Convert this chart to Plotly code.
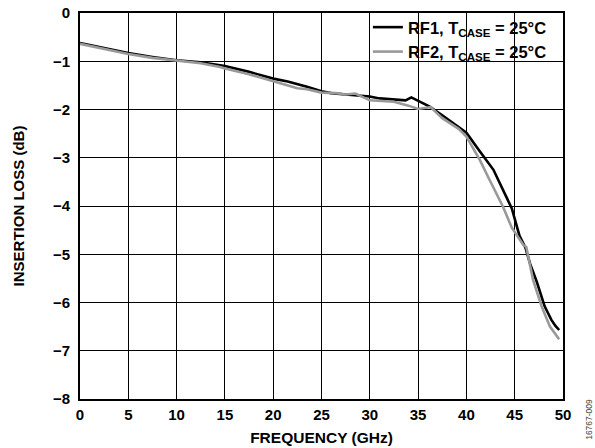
import plotly.graph_objects as go

rf1_freq = [0, 2.5, 5, 7.5, 10, 12.5, 15, 17.5, 20, 21.5, 22.5, 23.5, 25, 26, 27.5, 29, 30,
            31, 32, 33, 33.7, 34.3, 35, 36.2, 37.5, 39.2, 40, 41.4, 42.8, 43.3, 44.0, 44.7,
            45.5, 46.1, 46.6, 47.3, 48.1, 48.8, 49.2, 49.6]
rf1_loss = [-0.62, -0.73, -0.83, -0.91, -0.98, -1.02, -1.10, -1.22, -1.36, -1.42, -1.47, -1.53,
            -1.62, -1.66, -1.69, -1.71, -1.73, -1.77, -1.78, -1.80, -1.81, -1.75, -1.82, -1.94,
            -2.12, -2.37, -2.48, -2.87, -3.25, -3.46, -3.75, -4.05, -4.62, -4.86, -5.20, -5.58,
            -6.08, -6.36, -6.48, -6.57]

rf2_freq = [0, 2.5, 5, 7.5, 10, 12.5, 14.5, 15, 17.5, 20, 22.5, 23.5, 25, 26.5, 27.5, 28.5,
            30, 32.5, 34, 35, 35.8, 36.3, 37.5, 39.2, 40, 41.4, 42.3, 43.0, 43.8, 44.7, 45.5,
            45.9, 46.2, 46.9, 47.8, 48.65, 49.6]
rf2_loss = [-0.64, -0.75, -0.85, -0.93, -0.99, -1.04, -1.12, -1.15, -1.27, -1.42, -1.56, -1.58,
            -1.65, -1.66, -1.69, -1.67, -1.81, -1.84, -1.92, -1.99, -1.97, -1.95, -2.18, -2.40,
            -2.56, -3.05, -3.42, -3.70, -4.02, -4.45, -4.70, -4.81, -4.85, -5.53, -6.09, -6.50,
            -6.76]

x_ticks = [0, 5, 10, 15, 20, 25, 30, 35, 40, 45, 50]
y_ticks = [0, -1, -2, -3, -4, -5, -6, -7, -8]

FONT = "Liberation Sans, Arial, sans-serif"

fig = go.Figure()
fig.add_trace(go.Scatter(x=rf1_freq, y=rf1_loss, mode="lines",
                         line=dict(color="#000000", width=2.6),
                         name="RF1, T<sub>CASE</sub> = 25°C"))
fig.add_trace(go.Scatter(x=rf2_freq, y=rf2_loss, mode="lines",
                         line=dict(color="#999999", width=2.6),
                         name="RF2, T<sub>CASE</sub> = 25°C"))

axis_common = dict(showline=True, linecolor="black", linewidth=2, mirror=True,
                   showgrid=True, gridcolor="black", gridwidth=1.3,
                   zeroline=False, ticks="", automargin=False,
                   tickfont=dict(family=FONT, size=15, color="black", weight="bold"))

fig.update_xaxes(range=[0, 50], tickvals=x_ticks, ticklabelstandoff=1,
                 title=dict(text="FREQUENCY (GHz)", standoff=10,
                            font=dict(family=FONT, size=15.5, color="black", weight="bold")),
                 **axis_common)
fig.update_yaxes(range=[-8, 0], tickvals=y_ticks, ticklabelstandoff=5,
                 title=dict(text="INSERTION LOSS (dB)", standoff=25,
                            font=dict(family=FONT, size=15, color="black", weight="bold")),
                 **axis_common)

fig.update_layout(
    width=595, height=448,
    margin=dict(l=80, r=32, t=13, b=49, autoexpand=False),
    plot_bgcolor="white", paper_bgcolor="white",
    showlegend=True,
    legend=dict(x=0.977, y=1.008, xanchor="right", yanchor="top",
                bgcolor="rgba(0,0,0,0)", borderwidth=0,
                font=dict(family=FONT, size=16.5, color="black", weight="bold"),
                tracegroupgap=0),
    shapes=[dict(type="rect", xref="paper", yref="paper",
                 x0=0.561, x1=0.983, y0=0.8756, y1=0.992,
                 fillcolor="white", line=dict(width=0), layer="between")],
    annotations=[dict(text="16767-009", x=1.0, y=-0.054, xref="paper", yref="paper",
                      xanchor="center", yanchor="middle", xshift=26, showarrow=False,
                      textangle=-90, font=dict(family=FONT, size=8.5, color="#444444"))],
)

fig.write_html("out.html")
